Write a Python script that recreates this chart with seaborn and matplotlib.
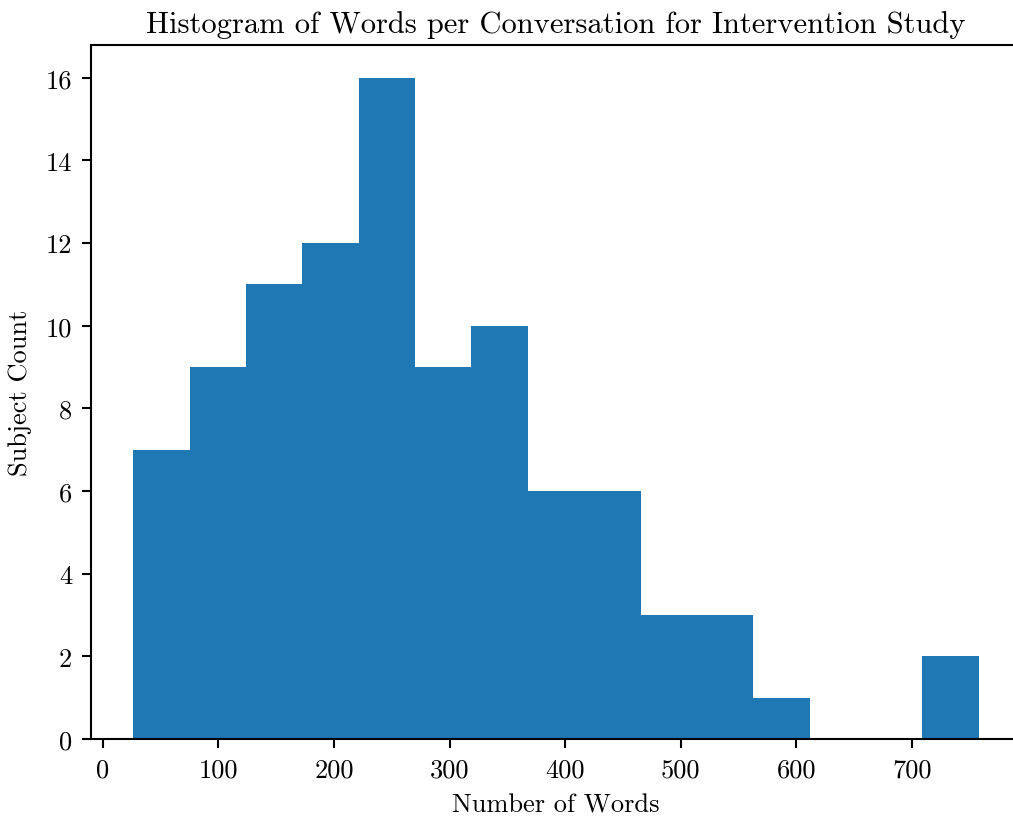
import numpy as np
import pandas as pd
import matplotlib
matplotlib.use("Agg")
import matplotlib.pyplot as plt
import seaborn as sns

# Data
counts = [7, 9, 11, 12, 16, 9, 10, 6, 6, 3, 3, 1, 0, 0, 2]
range_min = 26.5
range_max = 757.7
xticks = [0, 100, 200, 300, 400, 500, 600, 700]
yticks = [0, 2, 4, 6, 8, 10, 12, 14, 16]
title = "Histogram of Words per Conversation for Intervention Study"
xlabel = "Number of Words"
ylabel = "Subject Count"

edges = np.linspace(range_min, range_max, len(counts) + 1)
centers = (edges[:-1] + edges[1:]) / 2
df = pd.DataFrame({"words": centers, "count": counts})

sns.set_style("ticks")
plt.rcParams["font.family"] = "serif"
plt.rcParams["font.serif"] = ["cmr10", "DejaVu Serif"]
plt.rcParams["mathtext.fontset"] = "cm"
plt.rcParams["axes.formatter.use_mathtext"] = True
plt.rcParams["axes.unicode_minus"] = False
plt.rcParams["text.color"] = "black"
plt.rcParams["axes.labelcolor"] = "black"
plt.rcParams["xtick.color"] = "black"
plt.rcParams["ytick.color"] = "black"

fig = plt.figure(figsize=(10.13, 8.2), dpi=100)
ax = fig.add_axes([91 / 1013, 80 / 820, 930 / 1013, 694.3 / 820])

sns.histplot(data=df, x="words", weights="count", bins=len(counts),
             binrange=(range_min, range_max), ax=ax,
             color="#1f77b4", alpha=1.0, linewidth=0, stat="count")

ax.set_ylim(0, 16 * 1.05)
ax.set_xlim(range_min - 0.05 * (range_max - range_min), range_max + 0.05 * (range_max - range_min))
ax.set_xticks(xticks)
ax.set_yticks(yticks)
ax.set_xticklabels([str(t) for t in xticks])
ax.set_yticklabels([str(t) for t in yticks])
ax.tick_params(labelsize=19, length=6.5, width=1.5, pad=7, direction="out", color="black")
for s in ax.spines.values():
    s.set_linewidth(1.5)
    s.set_color("black")

ax.set_title(title, fontsize=22, pad=9)
ax.set_xlabel(xlabel, fontsize=19, labelpad=8)
ax.set_ylabel(ylabel, fontsize=19, labelpad=10)

fig.savefig("out.png", dpi=100)
